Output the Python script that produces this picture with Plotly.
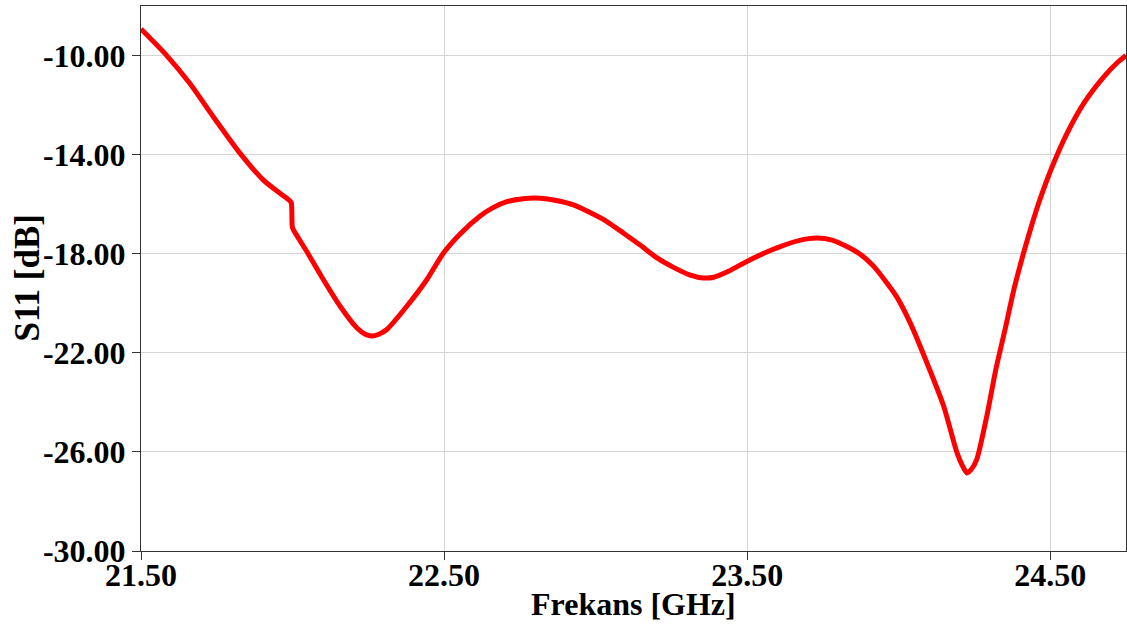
import plotly.graph_objects as go

# S11 reflection coefficient versus frequency
freq_ghz = [
    21.500, 21.585, 21.662, 21.739, 21.827, 21.904, 21.937, 21.965, 21.990, 21.996,
    21.999, 22.003, 22.047, 22.102, 22.157, 22.212, 22.240, 22.261, 22.285, 22.311,
    22.377, 22.443, 22.498, 22.553, 22.619, 22.660, 22.707, 22.760, 22.817, 22.870,
    22.927, 22.980, 23.037, 23.090, 23.147, 23.200, 23.257, 23.310, 23.356, 23.390,
    23.440, 23.499, 23.555, 23.609, 23.670, 23.730, 23.780, 23.829, 23.873, 23.917,
    23.961, 23.994, 24.038, 24.093, 24.148, 24.192, 24.210, 24.225, 24.240, 24.258,
    24.291, 24.320, 24.352, 24.380, 24.412, 24.440, 24.462, 24.506, 24.555, 24.610,
    24.676, 24.720, 24.750,
]
s11_db = [
    -8.93, -10.00, -11.14, -12.48, -13.95, -15.03, -15.36, -15.62, -15.85, -15.95,
    -16.90, -17.04, -17.91, -19.05, -20.12, -20.99, -21.25, -21.32, -21.25, -21.06,
    -20.12, -19.05, -17.97, -17.20, -16.48, -16.15, -15.90, -15.78, -15.76, -15.85,
    -16.03, -16.33, -16.70, -17.15, -17.65, -18.15, -18.55, -18.85, -18.98, -18.95,
    -18.70, -18.31, -17.98, -17.71, -17.47, -17.37, -17.45, -17.71, -18.02, -18.50,
    -19.18, -19.75, -20.79, -22.40, -24.14, -26.02, -26.55, -26.85, -26.70, -26.29,
    -24.54, -22.70, -21.00, -19.45, -17.97, -16.80, -15.95, -14.50, -13.15, -11.94,
    -10.87, -10.30, -10.00,
]

x_ticks = [21.5, 22.5, 23.5, 24.5]
x_tick_labels = ["21.50", "22.50", "23.50", "24.50"]
y_ticks = [-30, -26, -22, -18, -14, -10]
y_tick_labels = ["-30.00", "-26.00", "-22.00", "-18.00", "-14.00", "-10.00"]

x_title = "Frekans [GHz]"
y_title = "S11 [dB]"

font_family = "Liberation Serif, Times New Roman, serif"
bold_font = dict(family=font_family, size=32, color="#000000", weight="bold")
y_title_font = dict(family=font_family, size=35, color="#000000", weight="bold")

fig = go.Figure(
    go.Scatter(
        x=freq_ghz,
        y=s11_db,
        mode="lines",
        line=dict(color="#ff0000", width=5, shape="spline", smoothing=0.6),
        showlegend=False,
    )
)

axis_common = dict(
    showline=True,
    linecolor="#333333",
    linewidth=1,
    mirror=True,
    ticks="outside",
    ticklen=8,
    tickcolor="#333333",
    showgrid=True,
    gridcolor="#d4d4d4",
    gridwidth=1,
    zeroline=False,
    tickfont=bold_font,
)

fig.update_xaxes(
    range=[21.5, 24.75],
    tickvals=x_ticks,
    ticktext=x_tick_labels,
    ticklabelstandoff=-12,
    **axis_common,
)
fig.update_yaxes(
    range=[-30, -8.0],
    tickvals=y_ticks,
    ticktext=y_tick_labels,
    **axis_common,
)

# axis titles placed as paper-anchored text
fig.add_annotation(
    text=x_title, font=bold_font, showarrow=False,
    xref="paper", yref="paper", x=0.5, y=0,
    xanchor="center", yanchor="middle", yshift=-53,
)
fig.add_annotation(
    text=y_title, font=y_title_font, showarrow=False, textangle=-90,
    xref="paper", yref="paper", x=0, y=0.5,
    xanchor="center", yanchor="middle", xshift=-114,
)

fig.update_layout(
    width=1127,
    height=633,
    margin=dict(l=141, r=1, t=6, b=82),
    paper_bgcolor="#ffffff",
    plot_bgcolor="#ffffff",
)

fig.write_html("out.html")
